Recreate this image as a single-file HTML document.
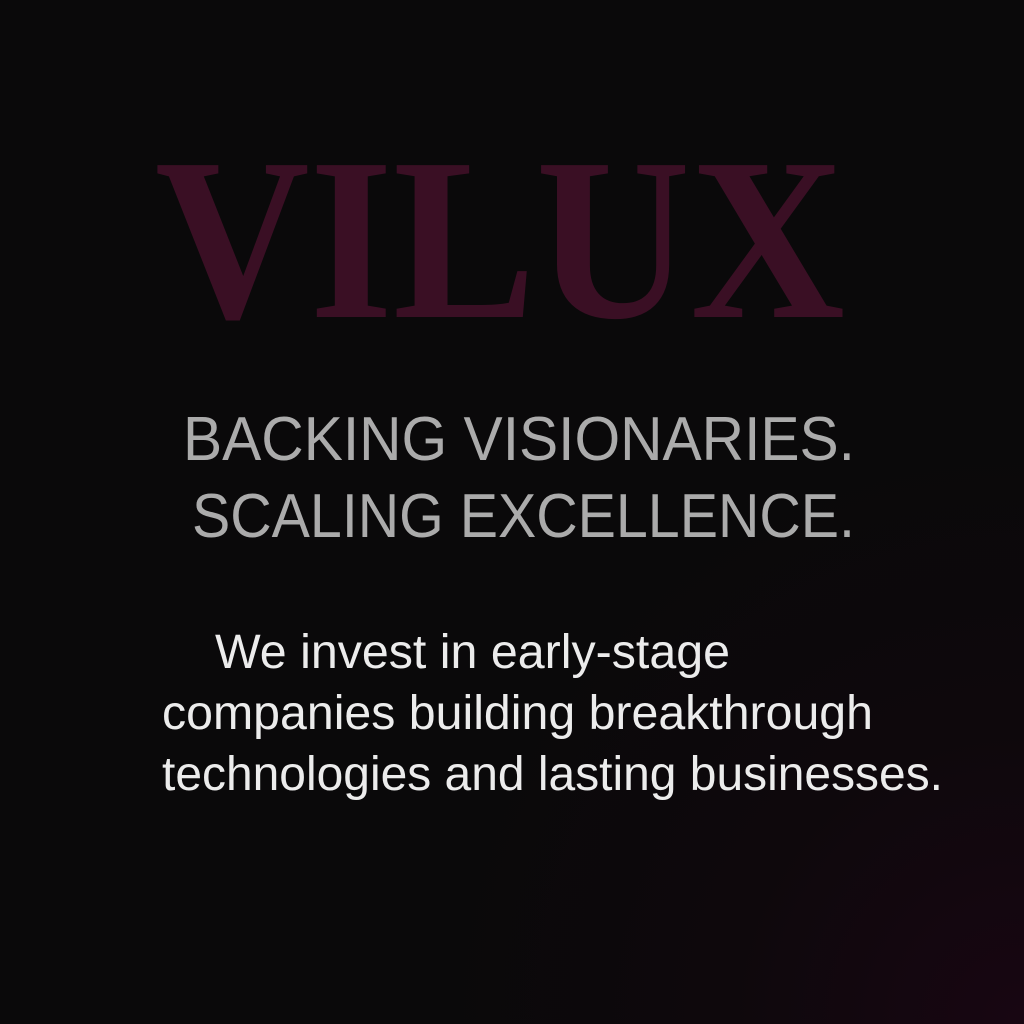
<!DOCTYPE html>
<html>
<head>
<meta charset="utf-8">
<style>
  html,body{margin:0;padding:0;width:1024px;height:1024px;overflow:hidden;background:#0a090a;}
  svg{display:block;}
</style>
</head>
<body>
<svg width="1024" height="1024" viewBox="0 0 1024 1024" xmlns="http://www.w3.org/2000/svg">
  <defs>
    <radialGradient id="glow" cx="1024" cy="1024" r="600" gradientUnits="userSpaceOnUse">
      <stop offset="0" stop-color="#180612"/>
      <stop offset="0.5" stop-color="#0e080c"/>
      <stop offset="1" stop-color="#0a090a"/>
    </radialGradient>
  </defs>
  <rect x="0" y="0" width="1024" height="1024" fill="url(#glow)"/>
  <text x="155" y="317" textLength="690" lengthAdjust="spacingAndGlyphs"
        font-family="'Liberation Serif', serif" font-weight="bold" font-size="232" fill="#3a0f24">VILUX</text>
  <text x="183" y="460" textLength="672" lengthAdjust="spacingAndGlyphs"
        font-family="'Liberation Sans', sans-serif" font-size="62" fill="#ababab">BACKING VISIONARIES.</text>
  <text x="192" y="537" textLength="663" lengthAdjust="spacingAndGlyphs"
        font-family="'Liberation Sans', sans-serif" font-size="62" fill="#ababab">SCALING EXCELLENCE.</text>
  <g font-family="'Liberation Sans', sans-serif" font-size="48" fill="#ececec">
    <text x="215" y="668" textLength="515" lengthAdjust="spacingAndGlyphs">We invest in early-stage</text>
    <text x="162" y="729" textLength="711" lengthAdjust="spacingAndGlyphs">companies building breakthrough</text>
    <text x="162" y="790" textLength="781" lengthAdjust="spacingAndGlyphs">technologies and lasting businesses.</text>
  </g>
</svg>
</body>
</html>
